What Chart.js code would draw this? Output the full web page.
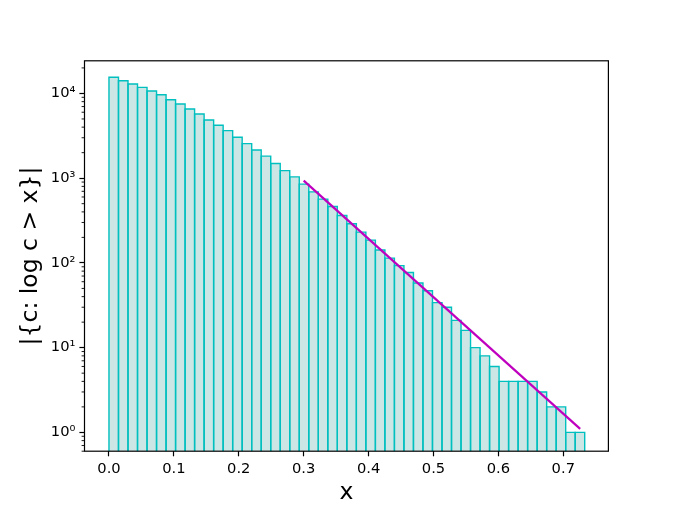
<!DOCTYPE html>
<html>
<head>
<meta charset="utf-8">
<script src="https://cdn.jsdelivr.net/npm/chart.js@4"></script>
<style>
  html, body { margin: 0; padding: 0; background: #fff; }
  canvas { display: block; }
</style>
</head>
<body>
<canvas id="hist" width="676" height="507"></canvas>
<script>
// histogram counts, one per bin
const binCounts = [
  15500, 14100, 12900, 11800, 10700, 9650, 8430, 7500, 6550, 5720,
  4860, 4210, 3640, 3040, 2560, 2150, 1820, 1490, 1228, 1035,
  850, 690, 566, 463, 362, 290, 231, 186, 142, 114,
  93, 77, 58, 47, 34, 30, 21, 16, 10, 8,
  6, 4, 4, 4, 4, 3, 2, 2, 1, 1
];
const binStart = 0;
const binWidth = 0.01466;

// fitted line (straight on the log axis)
const fitX = [0.3, 0.726];
const fitY = [935, 1.1];

const xTicks = [0, 0.1, 0.2, 0.3, 0.4, 0.5, 0.6, 0.7];
const yTicks = [1, 10, 100, 1000, 10000];
const supers = ['⁰', '¹', '²', '³', '⁴'];

const barData = binCounts.map((c, i) => ({x: binStart + (i + 0.5) * binWidth, y: c}));
const fitData = fitX.map((x, i) => ({x: x, y: fitY[i]}));

const axisFont = {family: 'DejaVu Sans', size: 14.7};
const titleFont = {family: 'DejaVu Sans', size: 23.5};

// bar edges stroked on the bin boundaries (matplotlib style, not inset)
const barEdges = {
  id: 'barEdges',
  afterDatasetDraw: (chart, args) => {
    if (args.meta.type !== 'bar') return;
    const {ctx, chartArea} = chart;
    ctx.save();
    ctx.beginPath();
    ctx.rect(chartArea.left, chartArea.top, chartArea.right - chartArea.left, chartArea.bottom - chartArea.top);
    ctx.clip();
    ctx.strokeStyle = 'rgb(0,191,191)';
    ctx.lineWidth = 1.4;
    args.meta.data.forEach((bar) => {
      const {x, y, base, width} = bar.getProps(['x', 'y', 'base', 'width']);
      ctx.beginPath();
      ctx.moveTo(x - width / 2, base);
      ctx.lineTo(x - width / 2, y);
      ctx.lineTo(x + width / 2, y);
      ctx.lineTo(x + width / 2, base);
      ctx.stroke();
    });
    ctx.restore();
  }
};

// minor log ticks + the box around the axes
const frame = {
  id: 'frame',
  afterDraw: (chart) => {
    const {ctx, chartArea} = chart;
    const y = chart.scales.y;
    ctx.save();
    ctx.strokeStyle = '#000';
    ctx.lineWidth = 0.9;
    for (let d = -1; d <= 4; d++) {
      for (let m = 2; m <= 9; m++) {
        const v = m * Math.pow(10, d);
        if (v < y.min || v > y.max) continue;
        const py = y.getPixelForValue(v);
        ctx.beginPath();
        ctx.moveTo(chartArea.left, py);
        ctx.lineTo(chartArea.left - 2.9, py);
        ctx.stroke();
      }
    }
    ctx.lineWidth = 1.2;
    ctx.strokeRect(chartArea.left, chartArea.top, chartArea.right - chartArea.left, chartArea.bottom - chartArea.top);
    ctx.restore();
  }
};

new Chart(document.getElementById('hist'), {
  type: 'bar',
  data: {
    datasets: [{
      type: 'line',
      data: fitData,
      borderColor: 'rgb(191,0,191)',
      borderWidth: 2.2,
      pointRadius: 0,
      fill: false,
      order: 0,
    }, {
      type: 'bar',
      data: barData,
      backgroundColor: 'rgba(0,128,128,0.2)',
      borderWidth: 0,
      inflateAmount: 0,
      barPercentage: 1,
      categoryPercentage: 1,
      order: 1,
    }]
  },
  options: {
    responsive: false,
    animation: false,
    devicePixelRatio: 1,
    layout: {padding: {left: 0, top: 60.8, right: 67.6, bottom: 0}},
    plugins: {legend: {display: false}, tooltip: {enabled: false}},
    scales: {
      x: {
        type: 'linear',
        min: -0.0377,
        max: 0.7695,
        offset: false,
        grid: {offset: false, drawOnChartArea: false, tickLength: 5.1, tickWidth: 1.2, tickColor: '#000'},
        border: {display: false},
        afterBuildTicks: (scale) => { scale.ticks = xTicks.map(v => ({value: v})); },
        afterFit: (scale) => { scale.height = 55.8; },
        ticks: {
          color: '#000',
          font: axisFont,
          padding: 4,
          maxRotation: 0,
          callback: (value) => value.toFixed(1)
        },
        title: {display: true, text: 'x', color: '#000', font: titleFont, padding: {top: 0, bottom: 0}}
      },
      y: {
        type: 'logarithmic',
        min: 0.6104,
        max: 24270,
        beginAtZero: false,
        grid: {drawOnChartArea: false, tickLength: 5.1, tickWidth: 1.2, tickColor: '#000'},
        border: {display: false},
        afterBuildTicks: (scale) => { scale.ticks = yTicks.map(v => ({value: v})); },
        afterFit: (scale) => { scale.width = 84.5; },
        ticks: {
          color: '#000',
          font: axisFont,
          padding: 4,
          callback: (value) => '10' + supers[Math.round(Math.log10(value))]
        },
        title: {display: true, text: '|{c: log c > x}|', color: '#000', font: titleFont, padding: {top: 17, bottom: 0}}
      }
    }
  },
  plugins: [barEdges, frame]
});
</script>
</body>
</html>
